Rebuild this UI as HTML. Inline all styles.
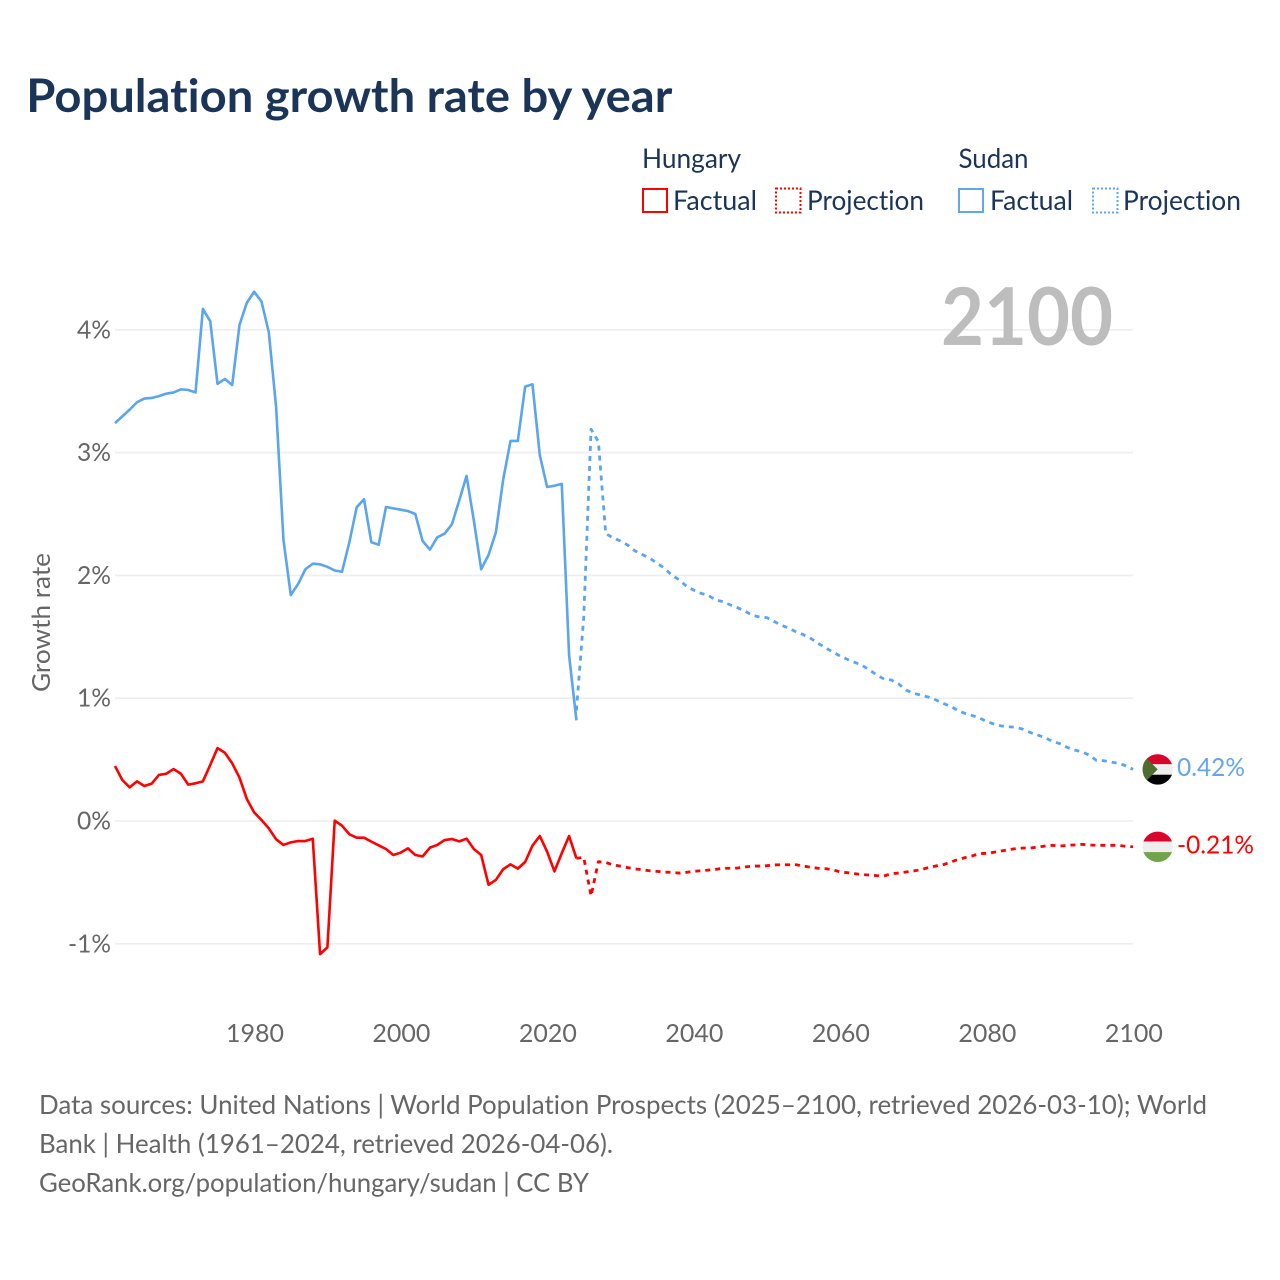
<!DOCTYPE html>
<html lang="en">
<head>
<meta charset="utf-8">
<title>Population growth rate by year</title>
<style>
html,body{margin:0;padding:0;background:#fff;width:1280px;height:1280px;overflow:hidden}
svg{display:block}
text{font-family:"Lato","Carlito","Liberation Sans",sans-serif;font-variant-ligatures:none}
</style>
</head>
<body>
<svg id="chart" xmlns="http://www.w3.org/2000/svg" width="1280" height="1280" viewBox="0 0 1280 1280">
  <defs>
    <clipPath id="flag-clip"><circle cx="0" cy="0" r="15.2"/></clipPath>
  </defs>
  <rect x="0" y="0" width="1280" height="1280" fill="#fff"/>
  <text x="26.3" y="112" font-size="46" font-weight="700" fill="#1a3557" textLength="646" lengthAdjust="spacingAndGlyphs">Population growth rate by year</text>

  <g font-size="27" fill="#1a3557">
    <text x="642" y="168" textLength="99" lengthAdjust="spacingAndGlyphs">Hungary</text>
    <text x="958.5" y="168" textLength="70" lengthAdjust="spacingAndGlyphs">Sudan</text>
    <g>
      <rect x="643" y="189" width="24" height="23" fill="none" stroke="#ff0000" stroke-width="2"/>
      <text x="673" y="210" textLength="84" lengthAdjust="spacingAndGlyphs">Factual</text>
    </g>
    <g>
      <rect x="776" y="188.5" width="24.5" height="24" fill="none" stroke="#ff0000" stroke-width="2" stroke-dasharray="2 2"/>
      <text x="807" y="210" textLength="117" lengthAdjust="spacingAndGlyphs">Projection</text>
    </g>
    <g>
      <rect x="959" y="189" width="24" height="23" fill="none" stroke="#62a6ee" stroke-width="2"/>
      <text x="990" y="210" textLength="83" lengthAdjust="spacingAndGlyphs">Factual</text>
    </g>
    <g>
      <rect x="1093" y="188.5" width="24.5" height="24" fill="none" stroke="#62a6ee" stroke-width="2" stroke-dasharray="2 2"/>
      <text x="1123" y="210" textLength="118" lengthAdjust="spacingAndGlyphs">Projection</text>
    </g>
  </g>

  <g id="grid"></g>
  <g id="yticks" font-size="25" fill="#666"></g>
  <g id="xticks" font-size="25" fill="#666"></g>

  <text transform="translate(50,622.5) rotate(-90)" text-anchor="middle" font-size="25" fill="#666" textLength="139" lengthAdjust="spacingAndGlyphs">Growth rate</text>
  <text x="941" y="345" font-size="80" font-weight="700" fill="#bdbdbd" textLength="172" lengthAdjust="spacingAndGlyphs">2100</text>

  <g id="series"></g>

  <g id="flag-sudan">
    <g clip-path="url(#flag-clip)">
      <rect x="-16" y="-16" width="32" height="32" fill="#eeeeee"/>
      <rect x="-16" y="-16" width="32" height="10.7" fill="#d9042b"/>
      <rect x="-16" y="5.3" width="32" height="10.7" fill="#000"/>
      <polygon points="-16,-16 0,0 -16,16" fill="#4d6e2e"/>
    </g>
  </g>
  <g id="flag-hungary">
    <g clip-path="url(#flag-clip)">
      <rect x="-16" y="-16" width="32" height="32" fill="#eeeeee"/>
      <rect x="-16" y="-16" width="32" height="10.7" fill="#d9042b"/>
      <rect x="-16" y="5.3" width="32" height="10.7" fill="#6fa548"/>
    </g>
  </g>
  <text id="label-sudan" x="1177" font-size="25" fill="#62a6ee" textLength="68" lengthAdjust="spacingAndGlyphs"></text>
  <text id="label-hungary" x="1177" font-size="25" fill="#ff0000" textLength="77" lengthAdjust="spacingAndGlyphs"></text>

  <g font-size="26" fill="#666">
    <text x="39" y="1114" textLength="1168" lengthAdjust="spacingAndGlyphs">Data sources: United Nations | World Population Prospects (2025–2100, retrieved 2026-03-10); World</text>
    <text x="39" y="1153" textLength="574" lengthAdjust="spacingAndGlyphs">Bank | Health (1961–2024, retrieved 2026-04-06).</text>
    <a><text x="39" y="1192" textLength="550" lengthAdjust="spacingAndGlyphs">GeoRank.org/population/hungary/sudan | CC BY</text></a>
  </g>
</svg>

<script>
var xTickYears = [1980, 2000, 2020, 2040, 2060, 2080, 2100];
var yTickValues = [-1, 0, 1, 2, 3, 4];

var factualStartYear = 1961;
var projectionStartYear = 2024;

var sudanFactual = [3.24,3.295,3.35,3.41,3.44,3.445,3.46,3.48,3.49,3.515,3.51,3.49,4.17,4.07,3.56,3.60,3.55,4.04,4.22,4.31,4.23,3.98,3.37,2.29,1.84,1.93,2.05,2.095,2.09,2.07,2.04,2.03,2.27,2.555,2.62,2.27,2.25,2.557,2.546,2.535,2.524,2.50,2.28,2.21,2.31,2.34,2.416,2.61,2.81,2.445,2.05,2.166,2.35,2.78,3.095,3.095,3.537,3.556,2.98,2.72,2.73,2.745,1.35,0.82];

var sudanProjection = [0.90,1.66,3.19,3.09,2.34,2.307,2.28,2.247,2.20,2.17,2.14,2.10,2.06,2.003,1.965,1.914,1.88,1.854,1.838,1.80,1.786,1.76,1.737,1.71,1.675,1.661,1.656,1.625,1.594,1.57,1.54,1.517,1.487,1.447,1.411,1.376,1.344,1.316,1.292,1.268,1.23,1.19,1.156,1.148,1.116,1.067,1.04,1.026,1.01,0.988,0.96,0.936,0.904,0.877,0.86,0.84,0.81,0.79,0.774,0.768,0.763,0.747,0.72,0.70,0.678,0.649,0.63,0.60,0.578,0.564,0.537,0.494,0.491,0.48,0.47,0.45,0.42];

var hungaryFactual = [0.448,0.334,0.274,0.323,0.285,0.304,0.375,0.385,0.423,0.385,0.296,0.307,0.323,0.456,0.594,0.556,0.47,0.353,0.179,0.07,0.008,-0.06,-0.149,-0.195,-0.174,-0.163,-0.163,-0.144,-1.084,-1.029,0.003,-0.038,-0.108,-0.136,-0.136,-0.168,-0.198,-0.228,-0.277,-0.258,-0.223,-0.277,-0.288,-0.217,-0.195,-0.155,-0.147,-0.166,-0.144,-0.228,-0.277,-0.519,-0.48,-0.393,-0.353,-0.388,-0.334,-0.201,-0.122,-0.25,-0.41,-0.263,-0.122,-0.304];

var hungaryProjection = [-0.304,-0.296,-0.611,-0.331,-0.337,-0.358,-0.367,-0.38,-0.39,-0.397,-0.405,-0.41,-0.416,-0.418,-0.424,-0.418,-0.41,-0.405,-0.40,-0.394,-0.385,-0.385,-0.383,-0.375,-0.367,-0.367,-0.364,-0.358,-0.356,-0.356,-0.356,-0.367,-0.377,-0.385,-0.388,-0.397,-0.415,-0.421,-0.429,-0.437,-0.44,-0.445,-0.448,-0.429,-0.424,-0.415,-0.407,-0.397,-0.38,-0.367,-0.358,-0.337,-0.315,-0.299,-0.285,-0.266,-0.263,-0.255,-0.244,-0.234,-0.225,-0.22,-0.22,-0.212,-0.204,-0.198,-0.204,-0.198,-0.195,-0.19,-0.195,-0.198,-0.198,-0.198,-0.198,-0.206,-0.21];

var SVG_NS = 'http://www.w3.org/2000/svg';

function xScale(year) { return 115 + (year - 1961) * 7.324; }
function yScale(value) { return 821 - value * 122.8; }

function pathFor(values, startYear) {
  return values.map(function (v, i) {
    return (i ? 'L' : 'M') + xScale(startYear + i).toFixed(2) + ' ' + yScale(v).toFixed(2);
  }).join(' ');
}

function tickWidth(label) {
  var w = 0;
  for (var i = 0; i < label.length; i++) {
    var c = label.charAt(i);
    w += c === '%' ? 19.5 : (c === '-' ? 9 : 14.5);
  }
  return w;
}

function fmtPercent(v) { return v.toFixed(2) + '%'; }

var gridGroup = document.getElementById('grid');
var yGroup = document.getElementById('yticks');
yTickValues.forEach(function (v) {
  var line = document.createElementNS(SVG_NS, 'line');
  
  
  line.setAttribute('x1', xScale(1961));
  line.setAttribute('x2', xScale(2100));
  line.setAttribute('y1', yScale(v));
  line.setAttribute('y2', yScale(v));
  line.setAttribute('stroke', '#eeeeee');
  line.setAttribute('stroke-width', '1.6');
  gridGroup.appendChild(line);

  var label = v + '%';
  var t = document.createElementNS(SVG_NS, 'text');
  
  
  t.setAttribute('x', 111 - tickWidth(label));
  t.setAttribute('y', yScale(v) + 8.5);
  t.setAttribute('textLength', tickWidth(label));
  t.setAttribute('lengthAdjust', 'spacingAndGlyphs');
  t.textContent = label;
  yGroup.appendChild(t);
});

var xGroup = document.getElementById('xticks');
xTickYears.forEach(function (year) {
  var label = String(year);
  var t = document.createElementNS(SVG_NS, 'text');
  
  
  t.setAttribute('x', xScale(year) - tickWidth(label) / 2 + 0.8);
  t.setAttribute('y', 1042);
  t.setAttribute('textLength', tickWidth(label));
  t.setAttribute('lengthAdjust', 'spacingAndGlyphs');
  t.textContent = label;
  xGroup.appendChild(t);
});

var seriesGroup = document.getElementById('series');

var sudanFactualLine = document.createElementNS(SVG_NS, 'path');


sudanFactualLine.setAttribute('d', pathFor(sudanFactual, factualStartYear));
sudanFactualLine.setAttribute('fill', 'none');
sudanFactualLine.setAttribute('stroke', '#5aa5ee');
sudanFactualLine.setAttribute('stroke-width', '2.6');
sudanFactualLine.setAttribute('stroke-linejoin', 'round');
seriesGroup.appendChild(sudanFactualLine);

var sudanProjectionLine = document.createElementNS(SVG_NS, 'path');


sudanProjectionLine.setAttribute('d', pathFor(sudanProjection, projectionStartYear));
sudanProjectionLine.setAttribute('fill', 'none');
sudanProjectionLine.setAttribute('stroke', '#5aa5ee');
sudanProjectionLine.setAttribute('stroke-width', '2.8');
sudanProjectionLine.setAttribute('stroke-linejoin', 'round');
sudanProjectionLine.setAttribute('stroke-dasharray', '5 5');
seriesGroup.appendChild(sudanProjectionLine);

var hungaryFactualLine = document.createElementNS(SVG_NS, 'path');


hungaryFactualLine.setAttribute('d', pathFor(hungaryFactual, factualStartYear));
hungaryFactualLine.setAttribute('fill', 'none');
hungaryFactualLine.setAttribute('stroke', '#ff0000');
hungaryFactualLine.setAttribute('stroke-width', '2.6');
hungaryFactualLine.setAttribute('stroke-linejoin', 'round');
seriesGroup.appendChild(hungaryFactualLine);

var hungaryProjectionLine = document.createElementNS(SVG_NS, 'path');


hungaryProjectionLine.setAttribute('d', pathFor(hungaryProjection, projectionStartYear));
hungaryProjectionLine.setAttribute('fill', 'none');
hungaryProjectionLine.setAttribute('stroke', '#ff0000');
hungaryProjectionLine.setAttribute('stroke-width', '2.8');
hungaryProjectionLine.setAttribute('stroke-linejoin', 'round');
hungaryProjectionLine.setAttribute('stroke-dasharray', '5 5');
seriesGroup.appendChild(hungaryProjectionLine);

var sudanEnd = sudanProjection[sudanProjection.length - 1];
var hungaryEnd = hungaryProjection[hungaryProjection.length - 1];
var flagX = 1157.7;

document.getElementById('flag-sudan').setAttribute('transform', 'translate(' + flagX + ',' + yScale(sudanEnd) + ')');
document.getElementById('flag-hungary').setAttribute('transform', 'translate(' + flagX + ',' + yScale(hungaryEnd) + ')');

var sudanLabel = document.getElementById('label-sudan');
sudanLabel.setAttribute('y', yScale(sudanEnd) + 6.5);
sudanLabel.textContent = fmtPercent(sudanEnd);

var hungaryLabel = document.getElementById('label-hungary');
hungaryLabel.setAttribute('y', yScale(hungaryEnd) + 6.5);
hungaryLabel.textContent = fmtPercent(hungaryEnd);
</script>
</body>
</html>
